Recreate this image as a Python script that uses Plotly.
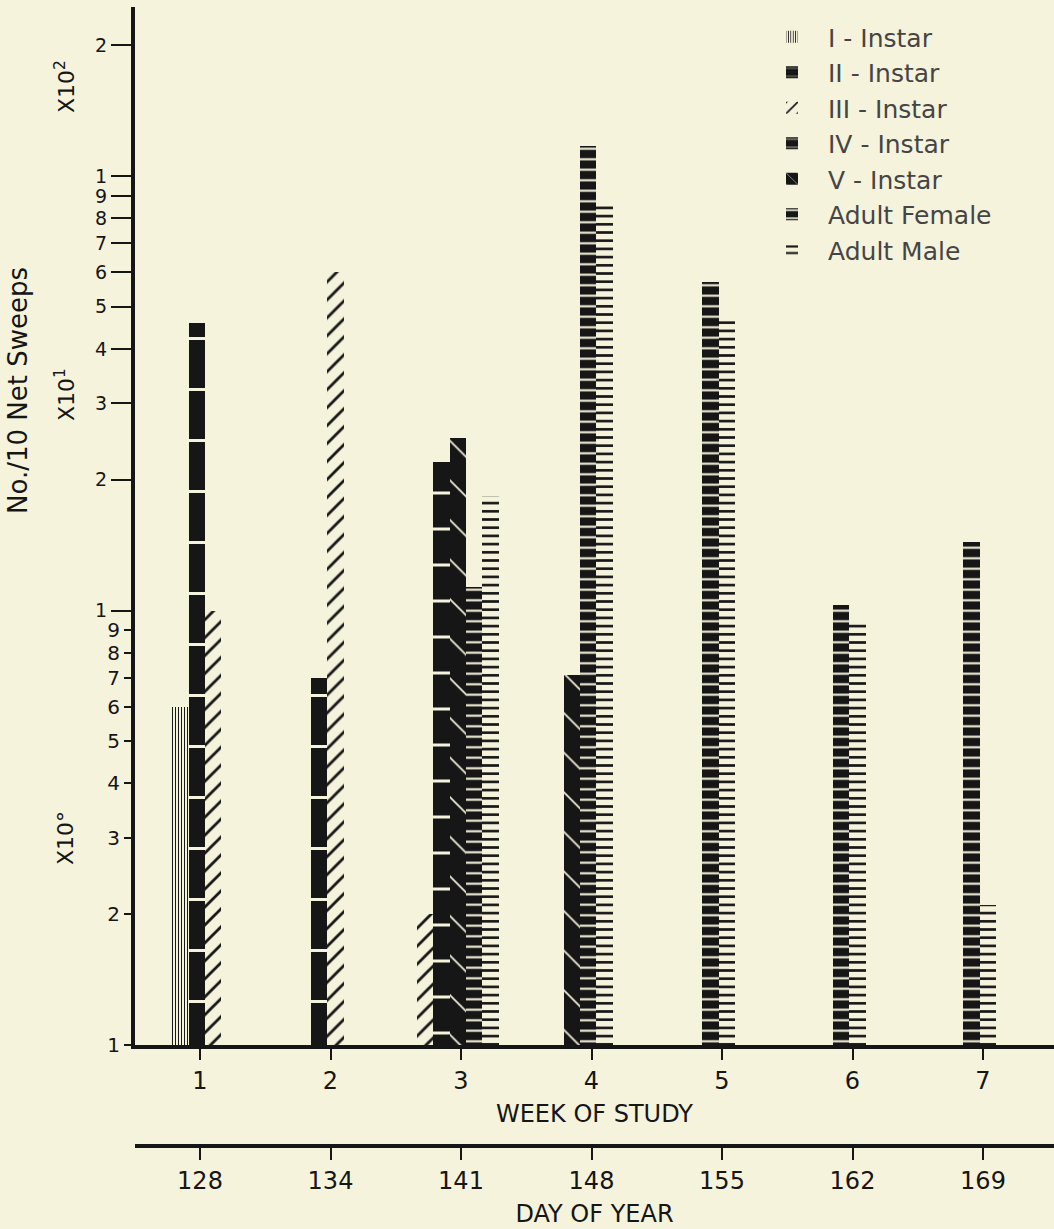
import plotly.graph_objects as go

# ---------------- data ----------------
weeks = [1, 2, 3, 4, 5, 6, 7]
week_labels = ["1", "2", "3", "4", "5", "6", "7"]
day_labels = ["128", "134", "141", "148", "155", "162", "169"]

series_names = ["I - Instar", "II - Instar", "III - Instar", "IV - Instar",
                "V - Instar", "Adult Female", "Adult Male"]
instar_I = [6, None, None, None, None, None, None]
instar_II = [46, 7, None, None, None, None, None]
instar_III = [10, 60, 2, None, None, None, None]
instar_IV = [None, None, 22, None, None, None, None]
instar_V = [None, None, 25, 7.1, None, None, None]
adult_female = [None, None, 11.3, 117, 57, 10.3, 14.4]
adult_male = [None, None, 18.3, 86, 47.5, 9.4, 2.1]

y_ticks_low = [1, 2, 3, 4, 5, 6, 7, 8, 9]
y_text_low = ["1", "2", "3", "4", "5", "6", "7", "8", "9"]
y_ticks_high = [10, 20, 30, 40, 50, 60, 70, 80, 90, 100, 200]
y_text_high = ["1", "2", "3", "4", "5", "6", "7", "8", "9", "1", "2"]

# ---------------- style ----------------
CREAM = "#f5f3dc"
INK = "#161616"
FONT = "DejaVu Sans, Liberation Sans, Arial, sans-serif"

patterns = [
    dict(shape="|", fgcolor=INK, bgcolor=CREAM, size=3, solidity=0.33),
    dict(shape="-", fgcolor=CREAM, bgcolor=INK, size=51, solidity=0.06),
    dict(shape="/", fgcolor=INK, bgcolor=CREAM, size=12.7, solidity=0.22),
    dict(shape="-", fgcolor=CREAM, bgcolor=INK, size=36, solidity=0.09),
    dict(shape="\\", fgcolor=CREAM, bgcolor=INK, size=28, solidity=0.06),
    dict(shape="-", fgcolor=CREAM, bgcolor=INK, size=10.5, solidity=0.2),
    dict(shape="-", fgcolor=INK, bgcolor=CREAM, size=8.2, solidity=0.32),
]
# axes each series is drawn on (all share the same ranges); spreading them
# over the overlaid axes makes the extra tick sets render
trace_axes = [("x", "y3"), ("x", "y"), ("x", "y"), ("x", "y"),
              ("x", "y"), ("x", "y"), ("x2", "y")]

all_series = [instar_I, instar_II, instar_III, instar_IV, instar_V,
              adult_female, adult_male]

BAR_W = 0.126      # bar width in week units
SHIFT = -0.025     # small leftward shift of each week's group

# bars present in a week are placed side by side, centred on the week
xpos = [[None] * len(weeks) for _ in all_series]
for j, wk in enumerate(weeks):
    present = [i for i, s in enumerate(all_series) if s[j] is not None]
    n = len(present)
    for k, i in enumerate(present):
        xpos[i][j] = wk + SHIFT + (k - (n - 1) / 2) * BAR_W

fig = go.Figure()
for i, (name, vals) in enumerate(zip(series_names, all_series)):
    xs = [xpos[i][j] for j in range(len(weeks)) if vals[j] is not None]
    ys = [v for v in vals if v is not None]
    p = patterns[i]
    xa, ya = trace_axes[i]
    fig.add_trace(go.Bar(
        x=xs, y=ys, width=BAR_W, name=name, xaxis=xa, yaxis=ya,
        marker=dict(color=p["bgcolor"], line=dict(width=0),
                    pattern=dict(shape=p["shape"], fgcolor=p["fgcolor"],
                                 bgcolor=p["bgcolor"], size=p["size"],
                                 solidity=p["solidity"], fillmode="replace")),
    ))

# geometry
L, R, T, B = 135, 0, 7, 83
H = 1229
plot_h = H - T - B
y_bottom_px = 1045
y_dom0 = (H - B - y_bottom_px) / plot_h
ylog_top = (y_bottom_px - T) / 434.5
xr = [1 - 65 / 130.5, 1 + (1054 - 200) / 130.5]


def px_x(px):
    return (px - L) / (1054 - L - R)


def px_y(py):
    return (H - B - py) / plot_h


axis_common = dict(showgrid=False, zeroline=False, tickcolor=INK,
                   linecolor=INK, tickwidth=1.5)

fig.update_layout(
    width=1054, height=1229,
    margin=dict(l=L, r=R, t=T, b=B),
    paper_bgcolor=CREAM, plot_bgcolor=CREAM,
    barmode="overlay", bargap=0,
    font=dict(family=FONT, color=INK, size=22),
    showlegend=True,
    legend=dict(x=px_x(756), y=px_y(14), xanchor="left", yanchor="top",
                bgcolor="rgba(0,0,0,0)", itemwidth=62,
                font=dict(family=FONT, size=25, color="#454545"),
                traceorder="normal"),
    xaxis=dict(domain=[0, 1], range=xr, anchor="y", tickmode="array",
               tickvals=weeks, ticktext=week_labels, ticks="outside",
               ticklen=11, showline=True, linewidth=4,
               tickfont=dict(size=24),
               title=dict(text="WEEK OF STUDY", standoff=12,
                          font=dict(size=24)),
               **axis_common),
    yaxis=dict(type="log", domain=[y_dom0, 1], range=[0, ylog_top],
               anchor="x", tickmode="array", tickvals=y_ticks_high,
               ticktext=y_text_high, ticks="outside", ticklen=20,
               showline=True, linewidth=4, tickfont=dict(size=19),
               **axis_common),
    yaxis3=dict(type="log", overlaying="y", range=[0, ylog_top],
                anchor="x", side="left", tickmode="array",
                tickvals=y_ticks_low, ticktext=y_text_low, ticks="outside",
                ticklen=10, showline=False, tickfont=dict(size=20),
                **axis_common),
    xaxis2=dict(overlaying="x", range=xr, anchor="free", position=0,
                side="bottom", tickmode="array",
                tickvals=weeks, ticktext=day_labels, ticks="outside",
                ticklen=12, showline=True, linewidth=4,
                tickfont=dict(size=24),
                title=dict(text="DAY OF YEAR", standoff=10,
                           font=dict(size=24)),
                **axis_common),
)

annots = [
    dict(text="No./10 Net Sweeps", x=px_x(18), y=px_y(391), size=26),
    dict(text="X10<sup>2</sup>", x=px_x(65), y=px_y(87), size=22),
    dict(text="X10<sup>1</sup>", x=px_x(65), y=px_y(395), size=22),
    dict(text="X10°", x=px_x(65), y=px_y(838), size=22),
]
for a in annots:
    fig.add_annotation(text=a["text"], x=a["x"], y=a["y"], xref="paper",
                       yref="paper", textangle=-90, showarrow=False,
                       xanchor="center", yanchor="middle",
                       font=dict(family=FONT, size=a["size"], color=INK))

fig.write_html("out.html", config={"displayModeBar": False},
               post_script="document.body.style.margin='0';")
